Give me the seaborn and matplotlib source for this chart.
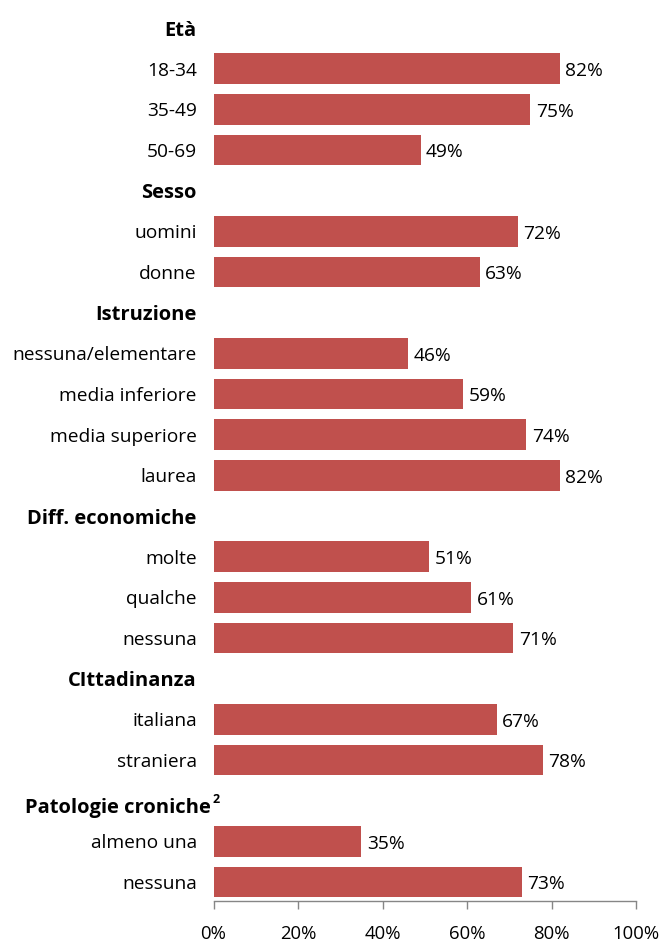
import matplotlib
matplotlib.use("Agg")
import matplotlib.pyplot as plt
import seaborn as sns
import pandas as pd
import numpy as np

groups = ["Età", "Sesso", "Istruzione", "Diff. economiche", "CIttadinanza", "Patologie croniche"]
group_notes = ["", "", "", "", "", "2"]
categories = [
    ["18-34", "35-49", "50-69"],
    ["uomini", "donne"],
    ["nessuna/elementare", "media inferiore", "media superiore", "laurea"],
    ["molte", "qualche", "nessuna"],
    ["italiana", "straniera"],
    ["almeno una", "nessuna"],
]
values = [
    [82, 75, 49],
    [72, 63],
    [46, 59, 74, 82],
    [51, 61, 71],
    [67, 78],
    [35, 73],
]
xticks = [0, 20, 40, 60, 80, 100]

sns.set_theme(style="white")
plt.rcParams['font.family'] = ['Open Sans', 'DejaVu Sans']

keys, labels, vals, is_header, notes = [], [], [], [], []
for g, note, cats, vs in zip(groups, group_notes, categories, values):
    keys.append("H_" + g); labels.append(g); vals.append(np.nan); is_header.append(True); notes.append(note)
    for c, v in zip(cats, vs):
        keys.append(g + "_" + c); labels.append(c); vals.append(v); is_header.append(False); notes.append("")

df = pd.DataFrame({"key": keys, "value": vals})
n = len(keys)

W, H = 664, 943
fig = plt.figure(figsize=(6.64, 9.43), dpi=100)
ax = fig.add_axes([213.5 / W, 1 - 901 / H, (636 - 213.5) / W, (901 - 3.6) / H])

sns.barplot(data=df.dropna(), x="value", y="key", order=keys, color="#C0504D",
            saturation=1, width=0.76, orient="h", ax=ax, linewidth=0)

FS = 13.8
HFS = 14.5
for p in ax.patches:
    w = p.get_width()
    if np.isfinite(w) and w > 0:
        ax.text(w + 1.3, p.get_y() + p.get_height() / 2 + 0.06, f"{w:.0f}%", va="center",
                ha="left", fontsize=FS, color="black")

ax.set_xlim(0, 100)
ax.set_ylim(n - 1 + 0.467, -0.6)
ax.set_xticks(xticks)
ax.set_xticklabels([f"{t}%" for t in xticks], fontsize=13.3, color="black")
ax.set_yticks(range(n))
ax.set_yticklabels([("" if nt else lb) for lb, nt in zip(labels, notes)], fontsize=FS, color="black")
for lab, h in zip(ax.get_yticklabels(), is_header):
    if h:
        lab.set_fontweight("bold")
        lab.set_fontsize(HFS)

# header with footnote mark (drawn as text next to the axis)
for i, (lb, nt) in enumerate(zip(labels, notes)):
    if nt:
        ypix = ax.transData.transform((0, i))[1]
        fig.text(211 / W, (ypix - 7) / H, lb, ha="right", va="center",
                 fontsize=HFS, fontweight="bold", color="black")
        fig.text(213 / W, (ypix + 1) / H, nt, ha="left", va="center",
                 fontsize=9, fontweight="bold", color="black")

ax.set_xlabel("")
ax.set_ylabel("")
for s in ["top", "right", "left"]:
    ax.spines[s].set_visible(False)
ax.spines["bottom"].set_color("#868686")
ax.spines["bottom"].set_linewidth(1)
ax.tick_params(axis="y", length=0, pad=12)
ax.tick_params(axis="x", length=6, width=1, color="#868686", direction="out", pad=11, bottom=True)

fig.savefig("out.png", dpi=100)
